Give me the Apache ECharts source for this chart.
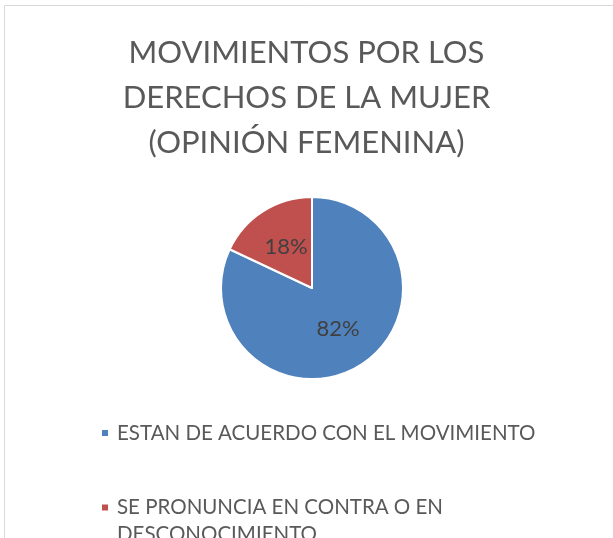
<!DOCTYPE html>
<html>
<head>
<meta charset="utf-8">
<script src="https://cdn.jsdelivr.net/npm/echarts@6/dist/echarts.min.js"></script>
<style>
  html, body { margin: 0; padding: 0; background: #fff; }
  #main { width: 613px; height: 538px; }
</style>
</head>
<body>
<div id="main"></div>
<script>
var titleText = 'MOVIMIENTOS POR LOS\nDERECHOS DE LA MUJER\n(OPINIÓN FEMENINA)'
var categories = ['ESTAN DE ACUERDO CON EL MOVIMIENTO', 'SE PRONUNCIA EN CONTRA O EN DESCONOCIMIENTO']
var legendLines = ['ESTAN DE ACUERDO CON EL MOVIMIENTO', '\nSE PRONUNCIA EN CONTRA O EN\nDESCONOCIMIENTO']
var values = [82, 18]
var colors = ['#4F81BD', '#C0504D']

var chart = echarts.init(document.getElementById('main'))
var font = 'Lato'

var pieData = categories.map(function (name, i) {
  return { name: name, value: values[i] }
})

// una leyenda por elemento para poder colocar cada uno
function makeLegend(i, top) {
  return {
    orient: 'vertical',
    left: 95,
    top: top,
    icon: 'rect',
    itemWidth: 8,
    itemHeight: 8,
    data: [categories[i]],
    formatter: function () {
      return legendLines[i]
    },
    textStyle: {
      fontFamily: font,
      fontSize: 20.5,
      color: '#595959',
      lineHeight: 27,
      padding: [0, 0, 0, 3]
    }
  }
}

var options = {
  animation: false,
  color: colors,
  graphic: [{
    type: 'rect',
    shape: { x: 4.5, y: 5.5, width: 700, height: 700 },
    style: { fill: 'none', stroke: '#D9D9D9', lineWidth: 1 },
    silent: true
  }],
  title: {
    text: titleText,
    left: 'center',
    top: 25,
    textStyle: {
      fontFamily: font,
      fontSize: 31,
      fontWeight: 'normal',
      color: '#595959',
      lineHeight: 45
    }
  },
  legend: [makeLegend(0, 414.5), makeLegend(1, 462)],
  series: [{
    type: 'pie',
    center: [312, 288],
    radius: [0, 91],
    startAngle: 90,
    clockwise: true,
    itemStyle: {
      borderColor: '#fff',
      borderWidth: 2
    },
    label: {
      show: true,
      position: 'inside',
      formatter: '{c}%',
      fontFamily: font,
      fontSize: 22,
      color: '#404040'
    },
    labelLine: { show: false },
    emphasis: { disabled: true },
    data: pieData
  }]
}
chart.setOption(options)
</script>
</body>
</html>
